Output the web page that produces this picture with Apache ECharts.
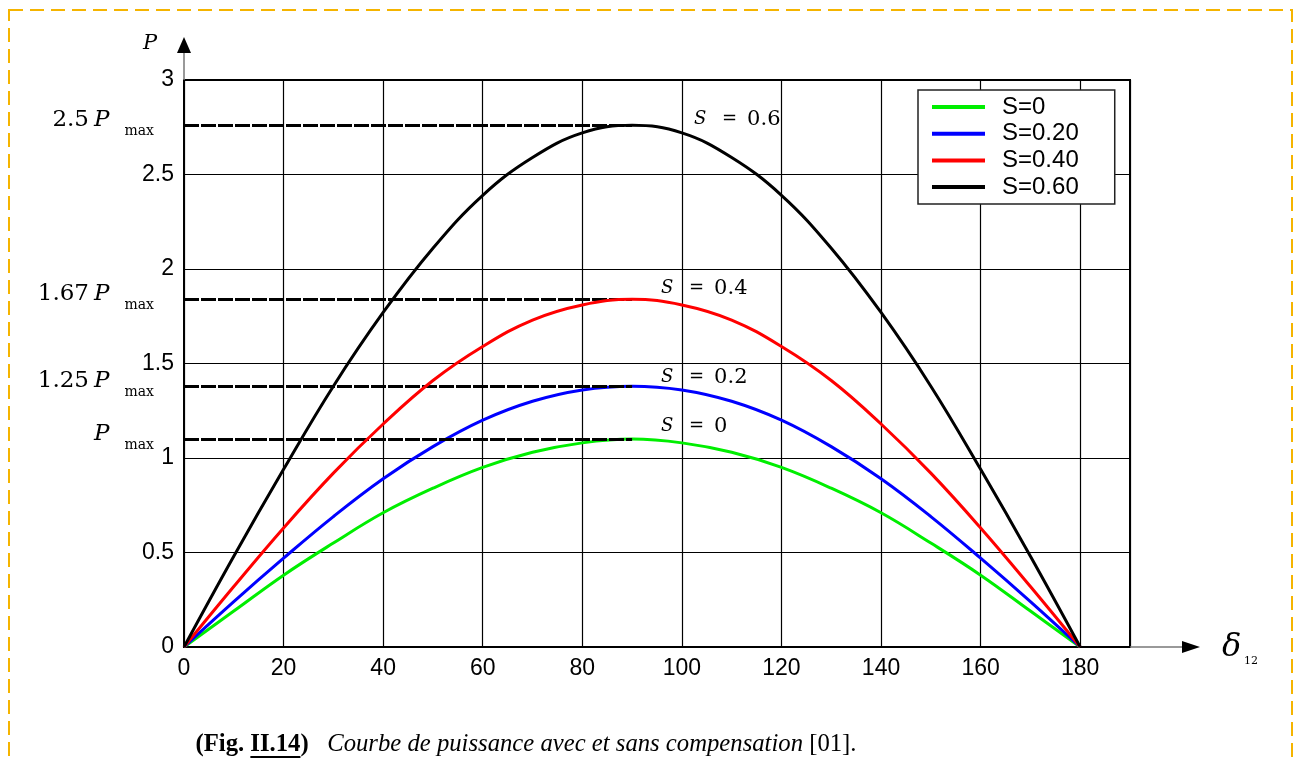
<!DOCTYPE html>
<html>
<head>
<meta charset="utf-8">
<script src="https://cdn.jsdelivr.net/npm/echarts@6/dist/echarts.min.js"></script>
<style>
  html, body { margin: 0; padding: 0; background: #fff; }
  #chart { width: 1300px; height: 762px; }
</style>
</head>
<body>
<div id="chart"></div>
<script>
// load angle delta_12 (degrees)
const angles = [0, 10, 20, 30, 40, 50, 60, 70, 80, 90, 100, 110, 120, 130, 140, 150, 160, 170, 180];
// power curves
const pS0 = [0, 0.19, 0.38, 0.55, 0.71, 0.84, 0.95, 1.03, 1.08, 1.1, 1.08, 1.03, 0.95, 0.84, 0.71, 0.55, 0.38, 0.19, 0];
const pS20 = [0, 0.24, 0.47, 0.69, 0.89, 1.06, 1.2, 1.3, 1.36, 1.38, 1.36, 1.3, 1.2, 1.06, 0.89, 0.69, 0.47, 0.24, 0];
const pS40 = [0, 0.32, 0.63, 0.92, 1.18, 1.41, 1.59, 1.73, 1.81, 1.84, 1.81, 1.73, 1.59, 1.41, 1.18, 0.92, 0.63, 0.32, 0];
const pS60 = [0, 0.48, 0.94, 1.38, 1.77, 2.11, 2.39, 2.59, 2.72, 2.76, 2.72, 2.59, 2.39, 2.11, 1.77, 1.38, 0.94, 0.48, 0];
const seriesNames = ["S=0", "S=0.20", "S=0.40", "S=0.60"];
const seriesColors = ["#00ee00", "#0000ff", "#ff0000", "#000000"];
const peakLabels = ["", "1.25", "1.67", "2.5"];
const curveLabels = ["0", "0.2", "0.4", "0.6"];
const peakAngle = 90;

const allData = [pS0, pS20, pS40, pS60];

const chart = echarts.init(document.getElementById("chart"));

function serif(size, style, weight) {
  return (style || "normal") + " " + (weight || "normal") + " " + size + "px 'Liberation Serif', 'DejaVu Serif', serif";
}
function dvs(size, style) {
  return (style || "normal") + " normal " + size + "px 'DejaVu Serif', serif";
}

const series = allData.map((vals, i) => ({
  name: seriesNames[i],
  type: "line",
  smooth: 0.4,
  showSymbol: false,
  z: 3 + i,
  lineStyle: { color: seriesColors[i], width: 3 },
  itemStyle: { color: seriesColors[i] },
  data: angles.map((a, k) => [a, vals[k]]),
}));

// dashed peak markers, drawn on top
series.push({
  name: "peaks",
  type: "line",
  showSymbol: false,
  z: 10,
  silent: true,
  data: [],
  lineStyle: { width: 0 },
  markLine: {
    silent: true,
    symbol: "none",
    label: { show: false },
    lineStyle: { color: "#000", width: 3, type: [15, 2] },
    data: allData.map((vals) => {
      const pk = Math.max(...vals);
      return [{ coord: [0, pk] }, { coord: [peakAngle, pk] }];
    }),
  },
});

chart.setOption({
  animation: false,
  backgroundColor: "#fff",
  grid: {
    left: 184, right: 170, top: 80, bottom: 115,
    show: true, borderColor: "#000", borderWidth: 2,
  },
  legend: {
    orient: "vertical",
    left: 918, top: 90,
    data: seriesNames,
    backgroundColor: "#fff",
    borderColor: "#222",
    borderWidth: 1.5,
    borderRadius: 0,
    padding: [5, 36, 5, 14],
    itemWidth: 53,
    itemHeight: 4,
    itemGap: 2.7,
    icon: "rect",
    textStyle: {
      fontFamily: "'Liberation Sans', Arial, sans-serif",
      fontSize: 24,
      color: "#000",
      lineHeight: 22,
      padding: [0, 0, 0, 12],
    },
  },
  xAxis: {
    type: "value",
    min: 0, max: 190, interval: 20,
    axisLine: { show: true, lineStyle: { color: "#000", width: 2 } },
    axisTick: { show: false },
    axisLabel: {
      showMaxLabel: false,
      margin: 10,
      color: "#000",
      fontSize: 23,
      fontFamily: "'Liberation Sans', Arial, sans-serif",
    },
    splitLine: { show: true, lineStyle: { color: "#000", width: 1.2 } },
  },
  yAxis: {
    type: "value",
    min: 0, max: 3, interval: 0.5,
    axisLine: { show: true, lineStyle: { color: "#000", width: 2 } },
    axisTick: { show: false },
    axisLabel: {
      margin: 10,
      color: "#000",
      fontSize: 23,
      fontFamily: "'Liberation Sans', Arial, sans-serif",
    },
    splitLine: { show: true, lineStyle: { color: "#000", width: 1.2 } },
  },
  series: series,
});

// annotations placed from the axis scales
const graphics = [];
function txt(x, y, text, font, align, extra) {
  graphics.push(Object.assign({
    type: "text", x: x, y: y, z: 100, silent: true,
    style: { text: text, font: font, fill: "#000", textAlign: align || "left", textVerticalAlign: "middle" },
  }, extra || {}));
}

allData.forEach((vals, i) => {
  const pk = Math.max(...vals);
  const p = chart.convertToPixel({ gridIndex: 0 }, [0, pk]);
  const q = chart.convertToPixel({ gridIndex: 0 }, [peakAngle, pk]);
  // left label: "k P max"
  txt(p[0] - 30, p[1] + 6, "max", dvs(14), "right");
  txt(p[0] - 90, p[1] - 5, "P", dvs(23, "italic"), "left");
  if (peakLabels[i]) txt(p[0] - 95, p[1] - 5, peakLabels[i], dvs(23), "right");
  // curve label "S = s"
  const sx = q[0] + (i === 3 ? 62 : 29);
  const sy = q[1] - (i === 3 ? 6 : (i === 2 ? 11 : (i === 1 ? 9 : 13)));
  txt(sx, sy, "S", dvs(18, "italic"), "left");
  txt(sx + 28, sy, "=", dvs(18), "left");
  txt(sx + 53, sy, curveLabels[i], dvs(21), "left");
});

// axis arrows and names
const origin = chart.convertToPixel({ gridIndex: 0 }, [0, 0]);
const topLeft = chart.convertToPixel({ gridIndex: 0 }, [0, 3]);
const rightEnd = chart.convertToPixel({ gridIndex: 0 }, [190, 0]);
graphics.push({
  type: "line", z: 50, silent: true,
  shape: { x1: origin[0], y1: topLeft[1], x2: origin[0], y2: topLeft[1] - 28 },
  style: { stroke: "#777", lineWidth: 1.5 },
});
graphics.push({
  type: "polygon", z: 50, silent: true,
  shape: { points: [[origin[0] - 7, topLeft[1] - 27], [origin[0] + 7, topLeft[1] - 27], [origin[0], topLeft[1] - 43]] },
  style: { fill: "#000" },
});
graphics.push({
  type: "line", z: 50, silent: true,
  shape: { x1: rightEnd[0], y1: origin[1], x2: rightEnd[0] + 55, y2: origin[1] },
  style: { stroke: "#777", lineWidth: 1.5 },
});
graphics.push({
  type: "polygon", z: 50, silent: true,
  shape: { points: [[rightEnd[0] + 52, origin[1] - 6], [rightEnd[0] + 52, origin[1] + 6], [rightEnd[0] + 70, origin[1]]] },
  style: { fill: "#000" },
});
txt(origin[0] - 41, topLeft[1] - 36, "P", dvs(21, "italic"), "left");
txt(rightEnd[0] + 92, origin[1] + 1, "δ", dvs(32, "italic"), "left");
txt(rightEnd[0] + 114, origin[1] + 14, "12", dvs(11), "left");

// dashed frame
graphics.push({
  type: "rect", z: 0, silent: true,
  shape: { x: 9, y: 10, width: 1283, height: 770 },
  style: { fill: null, stroke: "#f5b400", lineWidth: 2, lineDash: [14, 7] },
});

// caption
const capSize = 24.7;
const capParts = [
  { t: "(Fig. ", f: serif(capSize, "normal", "bold") },
  { t: "II.14", f: serif(capSize, "normal", "bold"), u: true },
  { t: ")", f: serif(capSize, "normal", "bold") },
  { t: "   ", f: serif(capSize) },
  { t: "Courbe de puissance avec et sans compensation", f: serif(capSize, "italic") },
  { t: " [01].", f: serif(capSize) },
];
const ctx = document.createElement("canvas").getContext("2d");
let total = 0;
capParts.forEach((p) => { ctx.font = p.f; p.w = ctx.measureText(p.t).width; total += p.w; });
let cx = 526 - total / 2;
const capY = 745;
capParts.forEach((p) => {
  txt(cx, capY, p.t, p.f, "left");
  if (p.u) {
    graphics.push({
      type: "line", z: 50, silent: true,
      shape: { x1: cx, y1: capY + 12, x2: cx + p.w, y2: capY + 12 },
      style: { stroke: "#000", lineWidth: 2 },
    });
  }
  cx += p.w;
});

chart.setOption({ graphic: graphics });
</script>
</body>
</html>
